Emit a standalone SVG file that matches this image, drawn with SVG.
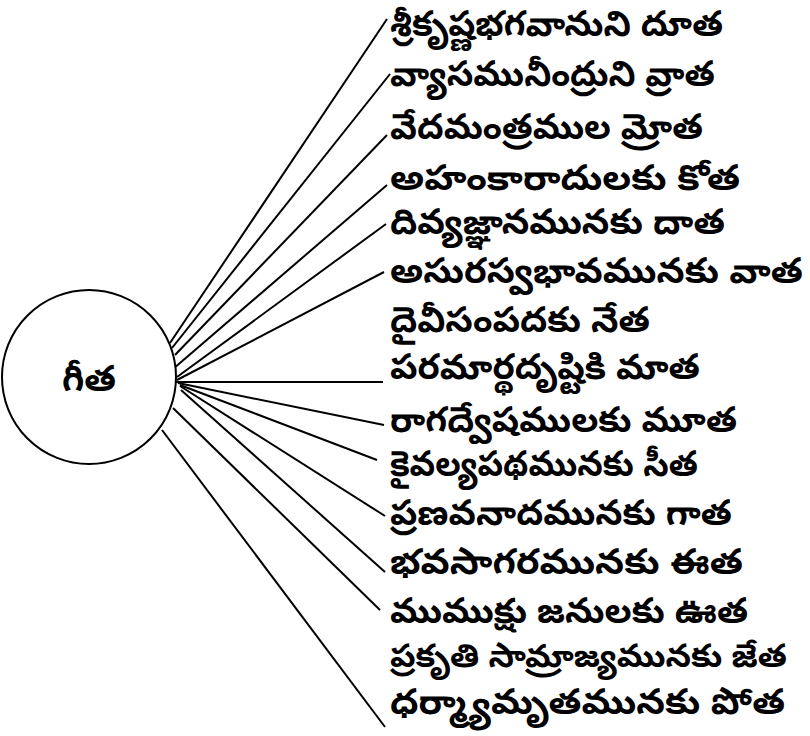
<svg xmlns="http://www.w3.org/2000/svg" width="810" height="736" viewBox="0 0 810 736">
<style>
.bg{fill:#ffffff}
.circ{fill:#ffffff;stroke:#000000;stroke-width:2}
.lbl{font-family:"Noto Sans Telugu","Noto Sans","DejaVu Sans",sans-serif;font-size:35px;fill:#000000;font-weight:bold}
.sm{font-size:32px}
.center{font-family:"Noto Sans Telugu","Noto Sans","DejaVu Sans",sans-serif;font-size:36px;fill:#000000;font-weight:bold;text-anchor:middle}
.conn line{stroke:#000000;stroke-width:2;fill:none}
</style>
<rect class="bg" x="0" y="0" width="810" height="736"/>
<g id="connectors" class="conn">
<line x1="170" y1="343" x2="387" y2="19"/>
<line x1="172" y1="348" x2="390" y2="74"/>
<line x1="175" y1="355" x2="387" y2="135"/>
<line x1="173" y1="369" x2="387" y2="185"/>
<line x1="177" y1="377" x2="386" y2="224"/>
<line x1="177" y1="380" x2="384" y2="272"/>
<line x1="175" y1="382" x2="383" y2="382"/>
<line x1="178" y1="383" x2="384" y2="425"/>
<line x1="180" y1="385" x2="377" y2="460"/>
<line x1="180" y1="386" x2="385" y2="516"/>
<line x1="181" y1="390" x2="385" y2="572"/>
<line x1="173" y1="408" x2="380" y2="610"/>
<line x1="162" y1="430" x2="385" y2="727"/>
</g>
<g id="gita">
<circle class="circ" cx="89" cy="377" r="87"/>
<text class="center" x="89" y="391">గీత</text>
</g>
<g id="n1"><text class="lbl" x="390" y="36" textLength="333" lengthAdjust="spacingAndGlyphs">శ్రీకృష్ణభగవానుని దూత</text></g>
<g id="n2"><text class="lbl" x="390" y="86" textLength="325" lengthAdjust="spacingAndGlyphs">వ్యాసమునీంద్రుని వ్రాత</text></g>
<g id="n3"><text class="lbl" x="390" y="139" textLength="313" lengthAdjust="spacingAndGlyphs">వేదమంత్రముల మ్రోత</text></g>
<g id="n4"><text class="lbl" x="390" y="190" textLength="350" lengthAdjust="spacingAndGlyphs">అహంకారాదులకు కోత</text></g>
<g id="n5"><text class="lbl" x="390" y="234" textLength="335" lengthAdjust="spacingAndGlyphs">దివ్యజ్ఞానమునకు దాత</text></g>
<g id="n6"><text class="lbl" x="390" y="283" textLength="413" lengthAdjust="spacingAndGlyphs">అసురస్వభావమునకు వాత</text></g>
<g id="n7"><text class="lbl" x="390" y="332" textLength="260" lengthAdjust="spacingAndGlyphs">దైవీసంపదకు నేత</text></g>
<g id="n8"><text class="lbl" x="390" y="379" textLength="310" lengthAdjust="spacingAndGlyphs">పరమార్థదృష్టికి మాత</text></g>
<g id="n9"><text class="lbl" x="390" y="432" textLength="347" lengthAdjust="spacingAndGlyphs">రాగద్వేషములకు మూత</text></g>
<g id="n10"><text class="lbl" x="390" y="476" textLength="308" lengthAdjust="spacingAndGlyphs">కైవల్యపథమునకు సీత</text></g>
<g id="n11"><text class="lbl" x="390" y="525" textLength="342" lengthAdjust="spacingAndGlyphs">ప్రణవనాదమునకు గాత</text></g>
<g id="n12"><text class="lbl" x="390" y="574" textLength="353" lengthAdjust="spacingAndGlyphs">భవసాగరమునకు ఈత</text></g>
<g id="n13"><text class="lbl" x="390" y="623" textLength="358" lengthAdjust="spacingAndGlyphs">ముముక్షు జనులకు ఊత</text></g>
<g id="n14"><text class="lbl sm" x="390" y="667" textLength="397" lengthAdjust="spacingAndGlyphs">ప్రకృతి సామ్రాజ్యమునకు జేత</text></g>
<g id="n15"><text class="lbl" x="390" y="714" textLength="395" lengthAdjust="spacingAndGlyphs">ధర్మ్యామృతమునకు పోత</text></g>
</svg>
